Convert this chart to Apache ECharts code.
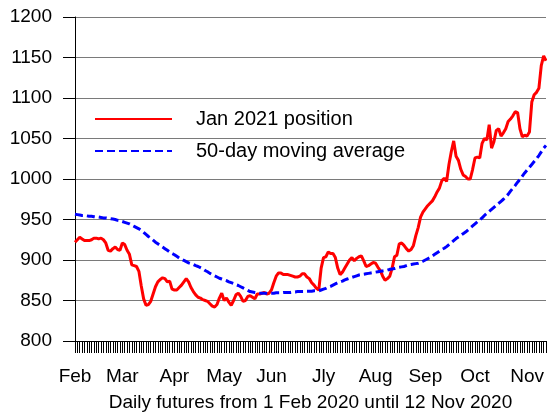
<!DOCTYPE html>
<html>
<head>
<meta charset="utf-8">
<script src="https://cdn.jsdelivr.net/npm/echarts@6/dist/echarts.min.js"></script>
<style>
  html, body { margin: 0; padding: 0; background: #fff; }
  #chart { width: 547px; height: 412px; }
</style>
</head>
<body>
<div id="chart"></div>
<script>
// month labels and the trading-day index where each month starts
const monthNames = ['Feb', 'Mar', 'Apr', 'May', 'Jun', 'Jly', 'Aug', 'Sep', 'Oct', 'Nov']
const monthStarts = [0, 20, 42, 63, 83, 105, 127, 148, 169, 191]

// Jan 2021 position, daily close
const jan2021 = [
  922, 925, 928, 926, 924, 924, 924, 925, 927, 927,
  926, 927, 925, 921, 912, 911, 914, 916, 913, 912,
  921, 919, 912, 907, 894, 893, 892, 886, 868, 852,
  844, 845, 849, 858, 867, 873, 876, 878, 877, 873,
  874, 864, 863, 863, 866, 869, 873, 877, 873, 866,
  861, 857, 854, 853, 851, 850, 849, 846, 843, 842,
  845, 853, 859, 850, 853, 848, 844, 850, 857, 859,
  855, 849, 850, 855, 856, 854, 852, 858, 858, 859,
  860, 858, 859, 863, 872, 880, 884, 884, 882, 882,
  882, 881, 880, 879, 879, 880, 883, 883, 879, 877,
  872, 869, 865, 863, 890, 903, 904, 910, 908, 908,
  903, 890, 882, 885, 890, 895, 900, 903, 899, 902,
  904, 905, 899, 892, 893, 895, 897, 896, 891, 887,
  880, 875, 877, 880, 890, 904, 906, 920, 921, 918,
  914, 911, 913, 918, 930, 940, 953, 959, 963, 967,
  970, 973, 978, 984, 989, 998, 1001, 997, 1018, 1034,
  1047, 1028, 1023, 1012, 1005, 1003, 1000, 1000, 1012, 1026,
  1027, 1026, 1044, 1050, 1048, 1067, 1038, 1046, 1060, 1062,
  1053, 1057, 1062, 1071, 1074, 1078, 1083, 1082, 1062, 1052,
  1054, 1053, 1058, 1095, 1104, 1107, 1112, 1140, 1152, 1146
]

// 50-day moving average
const movingAvg = [
  956.5, 956, 955.5, 955, 955, 954.5, 954, 954, 953.5, 953,
  953, 952.5, 952, 952, 951.5, 951, 950.5, 950, 949, 948.5,
  947.5, 946.5, 945.5, 944.5, 943, 941.5, 940, 938.5, 936.5, 934,
  931.5, 929, 927, 924.5, 922, 920, 918, 916, 914, 912,
  910, 908, 906.5, 904.5, 902.5, 901, 899.5, 898, 896.5, 895.5,
  894.5, 893, 892, 890.5, 889, 887, 885.5, 883.5, 882, 880.5,
  879, 877.5, 876.5, 875.5, 874.5, 873, 872, 871, 869.5, 868.5,
  867, 865.5, 864, 862.5, 861, 860.5, 860, 859.5, 859, 859,
  859, 859, 859, 859, 859, 859.5, 859.5, 859.5, 860, 860,
  860, 860, 860.5, 860.5, 861, 861, 861, 861, 861.5, 861.5,
  861.5, 862, 862, 862, 863, 864, 865, 866.5, 867.5, 869,
  870.5, 872, 873, 874, 875.5, 876.5, 877.5, 878.5, 879.5, 880.5,
  881.5, 882, 882.5, 883, 883.5, 884, 884.5, 885, 885.5, 886,
  886.5, 887, 887.5, 888.5, 889, 889.5, 890.5, 891, 891.5, 892,
  893, 894, 894.5, 895, 895.5, 896, 897, 898.5, 900, 901.5,
  903, 905, 907, 909, 911, 913, 914.5, 916.5, 919, 921.5,
  924, 926.5, 928.5, 930.5, 932.5, 934.5, 937, 939.5, 942, 944.5,
  947, 949.5, 952, 955, 957.5, 960, 962.5, 965, 967.5, 970,
  972.5, 975, 978, 981, 985, 988.5, 992, 996, 999.5, 1003.5,
  1007.5, 1011, 1014.5, 1018, 1021.5, 1025, 1029, 1033.5, 1038, 1041.5
]

const days = jan2021.map((_, i) => i)
const font = 'Liberation Sans, Arial, sans-serif'

const chart = echarts.init(document.getElementById('chart'))

chart.setOption({
  animation: false,
  grid: { left: 75, right: 1, top: 17, bottom: 71, outerBoundsMode: 'none' },
  legend: {
    orient: 'vertical',
    left: 89,
    top: 104,
    itemWidth: 77,
    itemHeight: 20,
    itemGap: 12,
    itemStyle: { opacity: 0 },
    textStyle: { fontFamily: font, fontSize: 20, color: '#000', padding: [0, 0, 0, 19] },
    data: ['Jan 2021 position', '50-day moving average']
  },
  xAxis: {
    type: 'category',
    data: days,
    boundaryGap: false,
    name: 'Daily futures from 1 Feb 2020 until 12 Nov 2020',
    nameLocation: 'middle',
    nameGap: 52,
    nameTextStyle: { fontFamily: font, fontSize: 19, color: '#000' },
    axisLine: { lineStyle: { color: '#000', width: 1 } },
    axisTick: { interval: 0, length: 12, lineStyle: { color: '#000', width: 1 } },
    axisLabel: {
      interval: (index) => monthStarts.includes(index),
      formatter: (value, index) => {
        const k = monthStarts.indexOf(index)
        return k >= 0 ? monthNames[k] : ''
      },
      margin: 26,
      fontFamily: font,
      fontSize: 19,
      color: '#000'
    },
    splitLine: { show: false }
  },
  yAxis: {
    type: 'value',
    min: 800,
    max: 1200,
    interval: 50,
    axisLine: { show: true, lineStyle: { color: '#000', width: 1 } },
    axisTick: { show: true, length: 12, lineStyle: { color: '#000', width: 1 } },
    axisLabel: {
      margin: 23,
      fontFamily: font,
      fontSize: 19,
      color: '#000',
      formatter: (v) => String(v)
    },
    splitLine: { lineStyle: { color: '#7a7a7a', width: 1 } }
  },
  series: [
    {
      name: 'Jan 2021 position',
      type: 'line',
      data: jan2021,
      symbol: 'none',
      lineStyle: { color: '#ff0000', width: 3 },
      itemStyle: { color: '#ff0000' }
    },
    {
      name: '50-day moving average',
      type: 'line',
      data: movingAvg,
      symbol: 'none',
      lineStyle: { color: '#0000ff', width: 3, type: [8, 4] },
      itemStyle: { color: '#0000ff' }
    }
  ]
})
</script>
</body>
</html>
